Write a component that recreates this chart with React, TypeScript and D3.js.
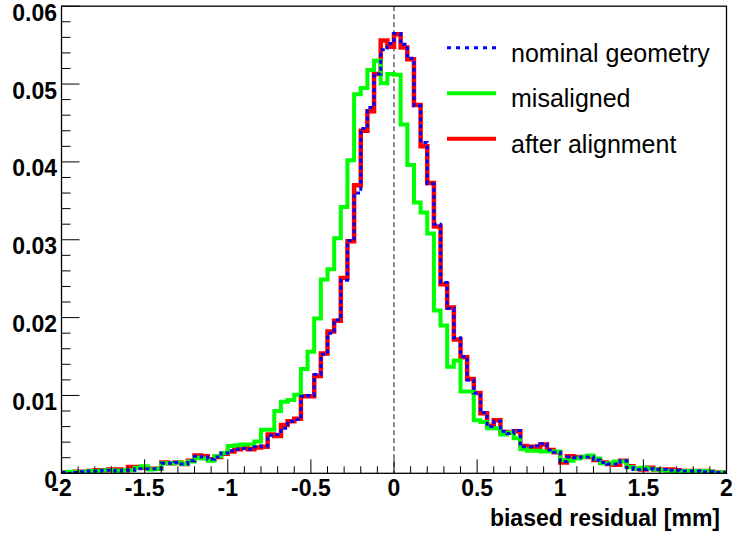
import React from "react";
import * as d3 from "d3";

const X_MIN = -2;
const X_MAX = 2;
const Y_MAX = 0.06;
const BIN_COUNT = 100;

const xTicks = [-2, -1.5, -1, -0.5, 0, 0.5, 1, 1.5, 2];
const xTickLabels = ["-2", "-1.5", "-1", "-0.5", "0", "0.5", "1", "1.5", "2"];
const yTicks = [0, 0.01, 0.02, 0.03, 0.04, 0.05, 0.06];
const yTickLabels = ["0", "0.01", "0.02", "0.03", "0.04", "0.05", "0.06"];

const seriesNames = ["nominal geometry", "misaligned", "after alignment"];

const afterAlignment = [
  0.0001, 0.0001, 0.0002, 0.0002, 0.0003, 0.0004, 0.0004, 0.0005, 0.0005, 0.0004,
  0.0008, 0.0008, 0.0007, 0.0006, 0.0006, 0.0014, 0.0013, 0.0014, 0.0012, 0.0016,
  0.0023, 0.0022, 0.0018, 0.0021, 0.0025, 0.0028, 0.0031, 0.0033, 0.0031, 0.0033,
  0.0034, 0.0050, 0.0048, 0.0062, 0.0067, 0.0070, 0.0099, 0.0099, 0.0125, 0.0154,
  0.0182, 0.0196, 0.0251, 0.0298, 0.0370, 0.0440, 0.0465, 0.0513, 0.0556, 0.0548,
  0.0564, 0.0547, 0.0532, 0.0473, 0.0420, 0.0373, 0.0317, 0.0243, 0.0213, 0.0172,
  0.0149, 0.0121, 0.0103, 0.0077, 0.0061, 0.0068, 0.0053, 0.0052, 0.0054, 0.0035,
  0.0034, 0.0034, 0.0037, 0.0030, 0.0027, 0.0014, 0.0022, 0.0021, 0.0021, 0.0021,
  0.0017, 0.0014, 0.0012, 0.0011, 0.0016, 0.0009, 0.0006, 0.0005, 0.0007, 0.0005,
  0.0005, 0.0005, 0.0004, 0.0003, 0.0003, 0.0003, 0.0003, 0.0002, 0.0001, 0.0001,
];

const misaligned = [
  0.0001, 0.0002, 0.0001, 0.0002, 0.0003, 0.0003, 0.0004, 0.0004, 0.0003, 0.0004,
  0.0004, 0.0007, 0.0009, 0.0005, 0.0006, 0.0013, 0.0013, 0.0014, 0.0012, 0.0015,
  0.0020, 0.0019, 0.0016, 0.0022, 0.0026, 0.0035, 0.0036, 0.0037, 0.0037, 0.0041,
  0.0056, 0.0056, 0.0080, 0.0092, 0.0094, 0.0101, 0.0134, 0.0156, 0.0199, 0.0249,
  0.0262, 0.0302, 0.0342, 0.0402, 0.0487, 0.0495, 0.0518, 0.0530, 0.0501, 0.0513,
  0.0512, 0.0448, 0.0396, 0.0348, 0.0335, 0.0308, 0.0209, 0.0190, 0.0137, 0.0145,
  0.0105, 0.0105, 0.0068, 0.0066, 0.0058, 0.0058, 0.0050, 0.0052, 0.0045, 0.0031,
  0.0029, 0.0029, 0.0028, 0.0028, 0.0028, 0.0017, 0.0016, 0.0019, 0.0021, 0.0023,
  0.0019, 0.0013, 0.0013, 0.0015, 0.0015, 0.0008, 0.0006, 0.0007, 0.0006, 0.0005,
  0.0004, 0.0003, 0.0003, 0.0003, 0.0003, 0.0003, 0.0003, 0.0002, 0.0001, 0.0001,
];

const nominal = [
  0.0001, 0.0000, 0.0001, 0.0002, 0.0003, 0.0003, 0.0004, 0.0004, 0.0003, 0.0004,
  0.0004, 0.0006, 0.0006, 0.0006, 0.0006, 0.0013, 0.0013, 0.0014, 0.0012, 0.0016,
  0.0022, 0.0021, 0.0018, 0.0021, 0.0026, 0.0029, 0.0031, 0.0032, 0.0031, 0.0034,
  0.0035, 0.0049, 0.0050, 0.0058, 0.0067, 0.0069, 0.0099, 0.0100, 0.0127, 0.0153,
  0.0180, 0.0197, 0.0248, 0.0299, 0.0360, 0.0443, 0.0470, 0.0513, 0.0544, 0.0552,
  0.0565, 0.0551, 0.0533, 0.0472, 0.0425, 0.0372, 0.0320, 0.0245, 0.0212, 0.0174,
  0.0150, 0.0120, 0.0103, 0.0078, 0.0060, 0.0067, 0.0054, 0.0051, 0.0055, 0.0034,
  0.0034, 0.0035, 0.0038, 0.0030, 0.0027, 0.0015, 0.0021, 0.0020, 0.0021, 0.0021,
  0.0017, 0.0014, 0.0012, 0.0012, 0.0016, 0.0007, 0.0005, 0.0005, 0.0006, 0.0005,
  0.0005, 0.0004, 0.0004, 0.0003, 0.0003, 0.0003, 0.0002, 0.0002, 0.0001, 0.0001,
];

const W = 735;
const H = 539;
const LEFT = 61.5;
const RIGHT = 726.5;
const TOP = 6.2;
const BOTTOM = 473.3;

const x = d3.scaleLinear().domain([X_MIN, X_MAX]).range([LEFT, RIGHT]);
const y = d3.scaleLinear().domain([0, Y_MAX]).range([BOTTOM, TOP]);

const binWidth = (X_MAX - X_MIN) / BIN_COUNT;

function stepPoints(values: number[]): [number, number][] {
  const pts: [number, number][] = [];
  values.forEach((v, i) => {
    const lo = X_MIN + i * binWidth;
    const hi = lo + binWidth;
    pts.push([lo, v]);
    pts.push([hi, v]);
  });
  return pts;
}

const line = d3
  .line<[number, number]>()
  .x((d) => x(d[0]))
  .y((d) => y(d[1]));

const FONT = "'Liberation Sans', Arial, Helvetica, sans-serif";

export default function App() {
  const xMinor = d3.range(-20, 21).map((k) => k / 10);
  const yMinor = d3.range(0, 31).map((k) => k * 0.002);

  return (
    <svg
      width={W}
      height={H}
      style={{ position: "absolute", left: 0, top: 0, background: "#fff" }}
    >
      <rect x={0} y={0} width={W} height={H} fill="#fff" />
      <defs>
        <clipPath id="frame">
          <rect x={LEFT} y={TOP - 2} width={RIGHT - LEFT} height={BOTTOM - TOP + 2} />
        </clipPath>
      </defs>

      {/* dashed zero line */}
      <line
        x1={x(0)}
        x2={x(0)}
        y1={TOP}
        y2={BOTTOM}
        stroke="#666"
        strokeWidth={1.5}
        strokeDasharray="5 3"
      />

      {/* histograms */}
      <g clipPath="url(#frame)">
        <path d={line(stepPoints(afterAlignment)) || ""} fill="none" stroke="#ff0000" strokeWidth={4.5} />
        <path d={line(stepPoints(misaligned)) || ""} fill="none" stroke="#00ff00" strokeWidth={4} />
        <path
          d={line(stepPoints(nominal)) || ""}
          fill="none"
          stroke="#0000ff"
          strokeWidth={3}
          strokeDasharray="4 3"
        />
      </g>

      {/* frame */}
      <rect
        x={LEFT}
        y={TOP}
        width={RIGHT - LEFT}
        height={BOTTOM - TOP}
        fill="none"
        stroke="#000"
        strokeWidth={1.3}
      />

      {/* y ticks */}
      {yMinor.map((v, i) => {
        const major = i % 5 === 0;
        return (
          <line
            key={"ym" + i}
            x1={LEFT}
            x2={LEFT + (major ? 18 : 9)}
            y1={y(v)}
            y2={y(v)}
            stroke="#000"
            strokeWidth={1}
          />
        );
      })}
      {yTicks.map((v, i) => (
        <text
          key={"yl" + i}
          x={57}
          y={y(v) + 14.5}
          textAnchor="end"
          fontFamily={FONT}
          fontWeight="bold"
          fontSize={23}
          fill="#000"
        >
          {yTickLabels[i]}
        </text>
      ))}

      {/* x ticks */}
      {xMinor.map((v, i) => {
        const major = i % 5 === 0;
        return (
          <line
            key={"xm" + i}
            x1={x(v)}
            x2={x(v)}
            y1={BOTTOM}
            y2={BOTTOM - (major ? 14 : 7)}
            stroke="#000"
            strokeWidth={1}
          />
        );
      })}
      {xTicks.map((v, i) => (
        <text
          key={"xl" + i}
          x={x(v)}
          y={496}
          textAnchor="middle"
          fontFamily={FONT}
          fontWeight="bold"
          fontSize={23}
          fill="#000"
        >
          {xTickLabels[i]}
        </text>
      ))}

      {/* x title */}
      <text
        x={720}
        y={526}
        textAnchor="end"
        fontFamily={FONT}
        fontWeight="bold"
        fontSize={23}
        fill="#000"
      >
        biased residual [mm]
      </text>

      {/* legend */}
      <g>
        <line x1={447} x2={496} y1={47.7} y2={47.7} stroke="#0000ff" strokeWidth={3} strokeDasharray="4 5" />
        <text x={511} y={61.5} fontFamily={FONT} fontSize={25} fill="#000">
          {seriesNames[0]}
        </text>
        <line x1={447} x2={496} y1={93.3} y2={93.3} stroke="#00ff00" strokeWidth={4} />
        <text x={511} y={107} fontFamily={FONT} fontSize={25} fill="#000">
          {seriesNames[1]}
        </text>
        <line x1={447} x2={496} y1={138.7} y2={138.7} stroke="#ff0000" strokeWidth={4} />
        <text x={511} y={152.5} fontFamily={FONT} fontSize={25} fill="#000">
          {seriesNames[2]}
        </text>
      </g>
    </svg>
  );
}
